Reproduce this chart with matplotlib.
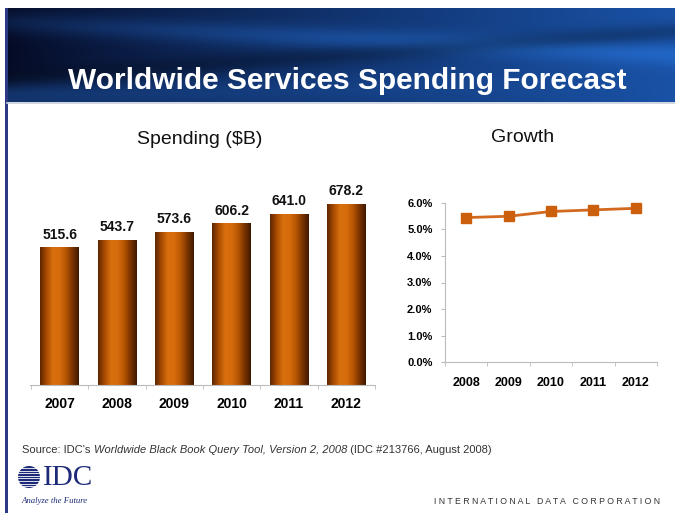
"""
IDC worldwide services spending forecast slide.
"""

import numpy as np
import matplotlib.pyplot as plt
from matplotlib.colors import LinearSegmentedColormap
from matplotlib.patches import Circle, Rectangle

# data
years = ['2007', '2008', '2009', '2010', '2011', '2012']
spending = [515.6, 543.7, 573.6, 606.2, 641.0, 678.2]

growth_years = ['2008', '2009', '2010', '2011', '2012']
growth = [5.45, 5.50, 5.68, 5.74, 5.80]
growth_ticks = [0, 1, 2, 3, 4, 5, 6]

W, H = 675, 513
FONT = 'Liberation Sans'
SERIF = 'Liberation Serif'

fig = plt.figure(figsize=(W / 100, H / 100), dpi=100)
fig.patch.set_facecolor('white')

# background axes in pixel coordinates
bg = fig.add_axes([0, 0, 1, 1])
bg.set_xlim(0, W)
bg.set_ylim(H, 0)
bg.axis('off')
bg.set_zorder(-1)

# header banner: dark navy with lighter blue streaks
xx, yy = np.meshgrid(np.linspace(0, 1, 400), np.linspace(0, 1, 80))
base = np.array([0.02, 0.04, 0.14])
right = np.array([0.10, 0.32, 0.65])
img = base + (right - base) * (xx ** 0.8)[..., None]
streak1 = np.exp(-((yy - (0.15 + 0.35 * xx)) / 0.12) ** 2) * (0.3 + 0.7 * xx)
streak2 = np.exp(-((yy - (0.95 - 0.15 * xx)) / 0.18) ** 2) * (1 - xx) * 0.8
dark = np.exp(-((yy - (0.75 - 0.5 * xx)) / 0.1) ** 2) * 0.5
glow = np.array([0.15, 0.45, 0.85])
img = img + (glow - img) * (0.6 * streak1 + 0.5 * streak2)[..., None]
img = img * (1 - 0.5 * dark)[..., None]
img = np.clip(img, 0, 1)
bg.imshow(img, extent=[7, W, 102, 8], aspect='auto', interpolation='bilinear')
bg.plot([7, W], [103, 103], color='#c8cede', lw=1.2)
bg.add_patch(Rectangle((5, 8), 2.5, H - 8, color='#2c3a86', lw=0))

bg.text(347, 81, 'Worldwide Services Spending Forecast', color='white',
        fontsize=21.5, fontweight='bold', family=FONT, ha='center', va='center')
bg.text(200, 140, 'Spending ($B)', fontsize=14, family=FONT,
        ha='center', va='center', color='#111111')
bg.text(523, 138, 'Growth', fontsize=14, family=FONT,
        ha='center', va='center', color='#111111')

# bar chart
ax = fig.add_axes([30 / W, 1 - 385 / H, 345 / W, 205 / H])
ax.patch.set_alpha(0)
bar_cmap = LinearSegmentedColormap.from_list(
    'cyl', ['#5c2600', '#a84b02', '#d8700e', '#d66c0c', '#b85604', '#7a3400', '#3f1800'])
x = np.arange(len(years))
bars = ax.bar(x, spending, width=0.68, color='none', zorder=2)
grad = np.linspace(0, 1, 256).reshape(1, -1)
for b, v in zip(bars, spending):
    x0 = b.get_x()
    im = ax.imshow(grad, extent=[x0, x0 + b.get_width(), 0, v], cmap=bar_cmap,
                   aspect='auto', zorder=2)
    im.set_clip_path(b)
    ax.annotate(f'{v:.1f}', (b.get_x() + b.get_width() / 2, v), xytext=(0, 4),
                textcoords='offset points', ha='center', va='bottom',
                fontsize=10, fontweight='bold', family=FONT, color='#111111')
ax.set_xlim(-0.52, 5.5)
ax.set_ylim(0, 768)
for s in ['top', 'right', 'left']:
    ax.spines[s].set_visible(False)
ax.spines['bottom'].set_color('#bbbbbb')
ax.set_yticks([])
ax.set_xticks(x)
ax.set_xticklabels(years, fontsize=10, fontweight='bold', family=FONT)
ax.set_xticks(np.arange(-0.5, 6, 1), minor=True)
ax.tick_params(axis='x', which='major', length=0, pad=9)
ax.tick_params(axis='x', which='minor', length=3, color='#bbbbbb')

# growth line chart
ax2 = fig.add_axes([445 / W, 1 - 362 / H, 212 / W, 159 / H])
ax2.patch.set_alpha(0)
gx = np.arange(len(growth_years))
ax2.plot(gx, growth, color='#d2691e', lw=2, marker='s', markersize=6.5,
         markerfacecolor='#cc5f0c', markeredgecolor='#cc5f0c', clip_on=False)
ax2.set_xlim(-0.5, 4.5)
ax2.set_ylim(0, 6)
for s in ['top', 'right']:
    ax2.spines[s].set_visible(False)
for s in ['left', 'bottom']:
    ax2.spines[s].set_color('#bbbbbb')
ax2.set_yticks(growth_ticks)
ax2.set_yticklabels([f'{t:.1f}%' for t in growth_ticks], fontsize=8,
                    fontweight='bold', family=FONT)
ax2.set_xticks(gx)
ax2.set_xticklabels(growth_years, fontsize=9, fontweight='bold', family=FONT)
ax2.set_xticks(np.arange(-0.5, 5, 1), minor=True)
ax2.tick_params(axis='x', which='major', length=0, pad=11)
ax2.tick_params(axis='x', which='minor', length=3, color='#bbbbbb')
ax2.tick_params(axis='y', length=3, color='#bbbbbb', pad=6)

# source line, mixed roman / italic
fig.canvas.draw()
renderer = fig.canvas.get_renderer()
pieces = [("Source: IDC's ", 'normal'),
          ('Worldwide Black Book Query Tool, Version 2, 2008', 'italic'),
          (' (IDC #213766, August 2008)', 'normal')]
xpos = 22
for txt, style in pieces:
    t = bg.text(xpos, 450, txt, fontsize=8, family=FONT, style=style,
                color='#333333', ha='left', va='center')
    ext = t.get_window_extent(renderer)
    xpos += ext.width

# IDC logo
bg.add_patch(Circle((29, 477), 11, color='#1c2a78', lw=0))
for yl in np.arange(468, 488, 2.6):
    bg.plot([16, 42], [yl, yl], color='white', lw=0.6)
bg.text(43, 478, 'IDC', fontsize=21, family=SERIF, color='#1c2a78',
        ha='left', va='center')
bg.text(21, 501, 'Analyze the Future', fontsize=6.3, family=SERIF,
        style='italic', color='#1c2a78', ha='left', va='center')
bg.text(660, 501, 'I N T E R N A T I O N A L   D A T A   C O R P O R A T I O N',
        fontsize=6.3, family=FONT, color='#333333', ha='right', va='center')

fig.savefig('out.png', dpi=100)
